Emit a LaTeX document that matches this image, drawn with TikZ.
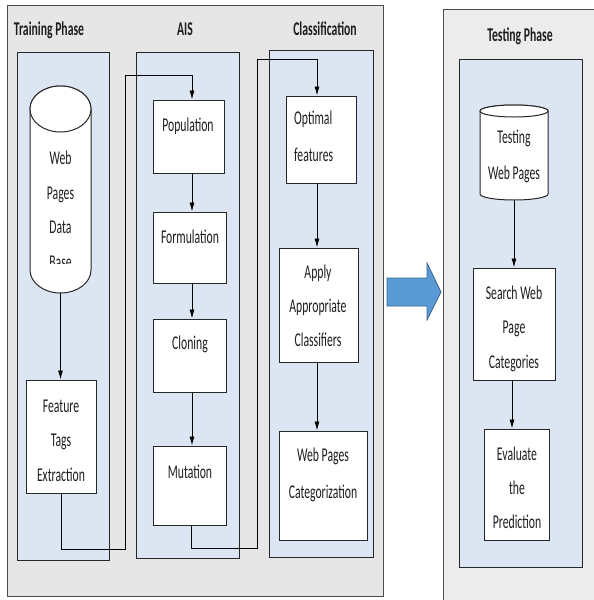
\documentclass[tikz,border=0pt]{standalone}
\usepackage{fontspec}
\newfontfamily\cfont[FakeStretch=0.6]{Carlito}
\usetikzlibrary{arrows.meta}
\definecolor{phasegray}{HTML}{E6E6E6}
\definecolor{testgray}{HTML}{ECECEC}
\definecolor{laneblue}{HTML}{DCE6F2}
\definecolor{arrowblue}{HTML}{5B9BD5}
\definecolor{arrowedge}{HTML}{3A6490}
\definecolor{inkgray}{HTML}{1E1E1E}
\begin{document}
\begin{tikzpicture}[x=1pt,y=-1pt,
  phase/.style={draw=black!70, line width=1pt},
  lane/.style={draw=black!85, line width=1pt, fill=laneblue},
  stepbox/.style={draw=black!85, line width=1pt, fill=white, inner sep=0pt},
  txt/.style={font=\cfont\fontsize{19.5}{34.5}\selectfont, text=inkgray, align=center, anchor=base, inner sep=0pt},
  title/.style={font=\cfont\bfseries\fontsize{19.5}{23}\selectfont, text=inkgray, anchor=base, inner sep=0pt},
  flow/.style={-{Latex[length=9pt,width=5pt]}, line width=0.8pt},
  drum/.style={draw=black!85, line width=1pt, fill=white}]
\clip (0,0) rectangle (594,600);
\fill[white] (0,0) rectangle (594,600);

% phase containers
\draw[phase, fill=phasegray] (7,5) rectangle (383,596);
\draw[phase, fill=testgray] (443,9) rectangle (600,612);

% swim lanes
\draw[lane] (17,52) rectangle (109,560);
\draw[lane] (136,52) rectangle (239,558);
\draw[lane] (269,50) rectangle (373,557);
\draw[lane] (459,59) rectangle (582,567);

% titles
\node[title] (ttrain) at (49,35) {Training Phase};
\node[title] (tais) at (185,35) {AIS};
\node[title] (tcls) at (325,35) {Classification};
\node[title] (ttest) at (520,41) {Testing Phase};

% training data base cylinder
\path[drum] (30,109) -- (30,270) arc[start angle=180, end angle=360, x radius=30.5pt, y radius=23pt]
  -- (91,109) arc[start angle=0, end angle=180, x radius=30.5pt, y radius=23pt] -- cycle;
\draw[drum] (60.5,109) ellipse[x radius=30.5pt, y radius=23pt];
\coordinate (dbbottom) at (60.5,293);
\begin{scope}
  \clip (20,130) rectangle (100,263);
  \node[txt] (dbtext) at (60.5,268) {Web\\Pages\\Data\\Base};
\end{scope}

% testing pages cylinder
\path[drum] (480,111) -- (480,194) arc[start angle=180, end angle=360, x radius=34pt, y radius=6pt]
  -- (548,111) arc[start angle=0, end angle=180, x radius=34pt, y radius=6pt] -- cycle;
\draw[drum] (514,111) ellipse[x radius=34pt, y radius=6pt];
\coordinate (tpbottom) at (514,200);
\node[txt, font=\cfont\fontsize{19.5}{36}\selectfont] (tptext) at (514,179) {Testing\\Web Pages};

% process steps
\node[stepbox, minimum width=70pt, minimum height=113pt] (feat) at (61,436.5) {};
\node[txt] at (61,481) {Feature\\Tags\\Extraction};

\node[stepbox, minimum width=71pt, minimum height=73pt] (pop) at (189,136.5) {};
\node[txt] at (188,131) {Population};
\node[stepbox, minimum width=73pt, minimum height=71pt] (form) at (189.5,247.5) {};
\node[txt] at (190,243) {Formulation};
\node[stepbox, minimum width=73pt, minimum height=73pt] (clon) at (189.5,355.5) {};
\node[txt] at (190,349) {Cloning};
\node[stepbox, minimum width=73pt, minimum height=79pt] (mut) at (189.5,485.5) {};
\node[txt] at (190,478) {Mutation};

\node[stepbox, minimum width=70pt, minimum height=87pt] (opt) at (321,139.5) {};
\node[txt, font=\cfont\fontsize{19.5}{37}\selectfont, align=left, anchor=base west] at (294,161) {Optimal\\features};
\node[stepbox, minimum width=79pt, minimum height=114pt] (apply) at (318.5,305) {};
\node[txt, font=\cfont\fontsize{19.5}{34}\selectfont] at (318,346) {Apply\\Appropriate\\Classifiers};
\node[stepbox, minimum width=88pt, minimum height=109pt] (wpc) at (323,485.5) {};
\node[txt, font=\cfont\fontsize{19.5}{37}\selectfont] at (323,498) {Web Pages\\Categorization};

\node[stepbox, minimum width=82pt, minimum height=112pt] (search) at (514,324) {};
\node[txt] at (514,368) {Search Web\\Page\\Categories};
\node[stepbox, minimum width=65pt, minimum height=111pt] (eval) at (516.5,484.5) {};
\node[txt, font=\cfont\fontsize{19.5}{34}\selectfont] at (517,528) {Evaluate\\the\\Prediction};

% connectors
\draw[flow] (dbbottom) -- (dbbottom |- feat.north);
\coordinate (fa) at (125,549);
\coordinate (fb) at (125,75);
\draw[flow] (feat.south) |- (fa) -- (fb) -| ([xshift=3pt]pop.north);
\draw[flow] ([xshift=3pt]pop.south) -- ([xshift=3pt]pop.south |- form.north);
\draw[flow] ([xshift=2.5pt]form.south) -- ([xshift=2.5pt]form.south |- clon.north);
\draw[flow] ([xshift=2.5pt]clon.south) -- ([xshift=2.5pt]clon.south |- mut.north);
\coordinate (ma) at (257,548);
\coordinate (mb) at (257,59);
\draw[flow] ([xshift=1.5pt]mut.south) |- (ma) -- (mb) -| ([xshift=-4pt]opt.north);
\draw[flow] ([xshift=-4pt]opt.south) -- ([xshift=-4pt]opt.south |- apply.north);
\draw[flow] ([xshift=-1.5pt]apply.south) -- ([xshift=-1.5pt]apply.south |- wpc.north);
\draw[flow] (tpbottom) -- (tpbottom |- search.north);
\draw[flow] ([xshift=-2pt]search.south) -- ([xshift=-2pt]search.south |- eval.north);

% block arrow from training to testing
\draw[fill=arrowblue, draw=arrowedge, line width=0.8pt, line join=miter]
  (387,278) -- (427,278) -- (427,263) -- (441,292) -- (427,320) -- (427,306) -- (387,306) -- cycle;
\end{tikzpicture}
\end{document}
